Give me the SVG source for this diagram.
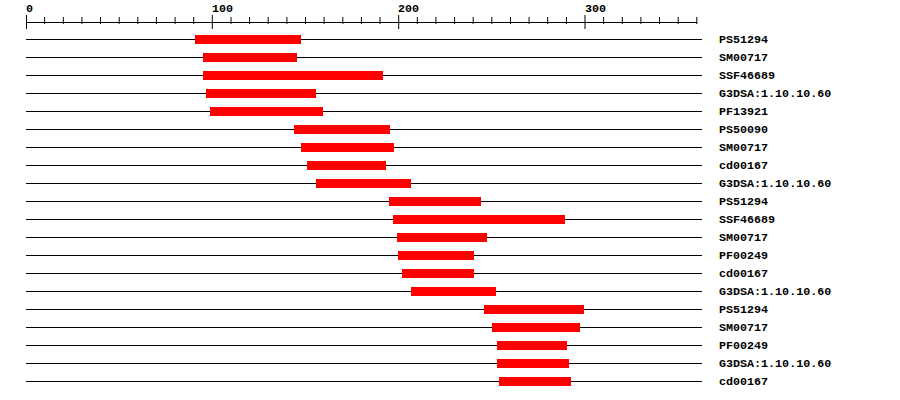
<svg xmlns="http://www.w3.org/2000/svg" width="900" height="400" viewBox="0 0 900 400">
<style>
text{font-family:"Liberation Mono","DejaVu Sans Mono",monospace;font-weight:bold;font-size:11.7px;fill:#000}
.ax{stroke:#000;stroke-width:1;fill:none}
.trk{stroke:#000;stroke-width:1}
.bar{fill:#ff0000}
</style>
<rect width="900" height="400" fill="#fff"/>
<g id="ruler">
<line class="ax" x1="26" y1="22.5" x2="697" y2="22.5"/>
<path class="ax" d="M26.5 15V29M44.6 17V24M63.3 17V24M81.9 17V24M100.5 17V24M119.2 17V24M137.8 17V24M156.4 17V24M175.1 17V24M193.7 17V24M212.3 15V29M231 17V24M249.6 17V24M268.2 17V24M286.9 17V24M305.5 17V24M324.1 17V24M342.8 17V24M361.4 17V24M380 17V24M398.7 15V29M417.3 17V24M435.9 17V24M454.6 17V24M473.2 17V24M491.8 17V24M510.5 17V24M529.1 17V24M547.7 17V24M566.4 17V24M585 15V29M603.6 17V24M622.3 17V24M640.9 17V24M659.5 17V24M678.2 17V24M696.8 17V24"/>
<text x="26" y="11.5">0</text>
<text x="212" y="11.5">100</text>
<text x="398" y="11.5">200</text>
<text x="585" y="11.5">300</text>
</g>
<g id="connectors">
<path class="trk" d="M26 39.5H702M26 57.5H702M26 75.5H702M26 93.5H702M26 111.5H702M26 129.5H702M26 147.5H702M26 165.5H702M26 183.5H702M26 201.5H702M26 219.5H702M26 237.5H702M26 255.5H702M26 273.5H702M26 291.5H702M26 309.5H702M26 327.5H702M26 345.5H702M26 363.5H702M26 381.5H702"/>
</g>
<g id="n1"><rect class="bar" x="195" y="35" width="106" height="9"/><text x="719" y="42.5">PS51294</text></g>
<g id="n2"><rect class="bar" x="203" y="53" width="94" height="9"/><text x="719" y="60.5">SM00717</text></g>
<g id="n3"><rect class="bar" x="203" y="71" width="180" height="9"/><text x="719" y="78.5">SSF46689</text></g>
<g id="n4"><rect class="bar" x="206" y="89" width="110" height="9"/><text x="719" y="96.5">G3DSA:1.10.10.60</text></g>
<g id="n5"><rect class="bar" x="210" y="107" width="113" height="9"/><text x="719" y="114.5">PF13921</text></g>
<g id="n6"><rect class="bar" x="294" y="125" width="96" height="9"/><text x="719" y="132.5">PS50090</text></g>
<g id="n7"><rect class="bar" x="301" y="143" width="93" height="9"/><text x="719" y="150.5">SM00717</text></g>
<g id="n8"><rect class="bar" x="307" y="161" width="79" height="9"/><text x="719" y="168.5">cd00167</text></g>
<g id="n9"><rect class="bar" x="316" y="179" width="95" height="9"/><text x="719" y="186.5">G3DSA:1.10.10.60</text></g>
<g id="n10"><rect class="bar" x="389" y="197" width="92" height="9"/><text x="719" y="204.5">PS51294</text></g>
<g id="n11"><rect class="bar" x="393" y="215" width="172" height="9"/><text x="719" y="222.5">SSF46689</text></g>
<g id="n12"><rect class="bar" x="397" y="233" width="90" height="9"/><text x="719" y="240.5">SM00717</text></g>
<g id="n13"><rect class="bar" x="398" y="251" width="76" height="9"/><text x="719" y="258.5">PF00249</text></g>
<g id="n14"><rect class="bar" x="402" y="269" width="72" height="9"/><text x="719" y="276.5">cd00167</text></g>
<g id="n15"><rect class="bar" x="411" y="287" width="85" height="9"/><text x="719" y="294.5">G3DSA:1.10.10.60</text></g>
<g id="n16"><rect class="bar" x="484" y="305" width="100" height="9"/><text x="719" y="312.5">PS51294</text></g>
<g id="n17"><rect class="bar" x="492" y="323" width="88" height="9"/><text x="719" y="330.5">SM00717</text></g>
<g id="n18"><rect class="bar" x="497" y="341" width="70" height="9"/><text x="719" y="348.5">PF00249</text></g>
<g id="n19"><rect class="bar" x="497" y="359" width="72" height="9"/><text x="719" y="366.5">G3DSA:1.10.10.60</text></g>
<g id="n20"><rect class="bar" x="499" y="377" width="72" height="9"/><text x="719" y="384.5">cd00167</text></g>
</svg>
